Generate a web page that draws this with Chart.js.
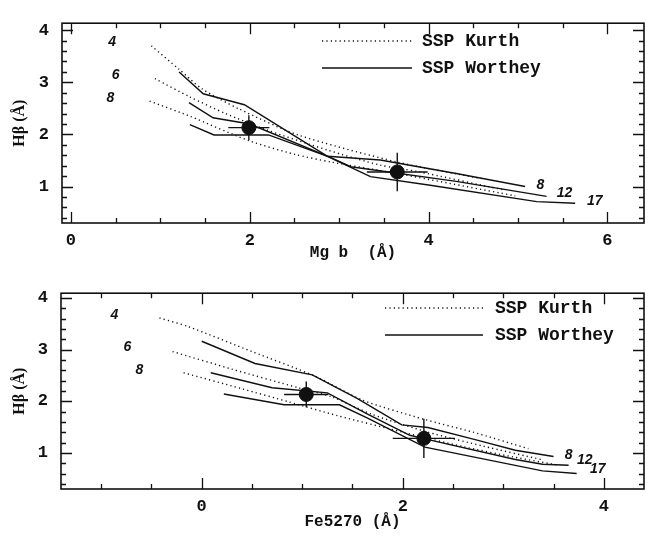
<!DOCTYPE html>
<html>
<head>
<meta charset="utf-8">
<script src="https://cdn.jsdelivr.net/npm/chart.js@4.4.1/dist/chart.umd.min.js"></script>
<style>
    html, body { margin: 0; padding: 0; background: #fff; }
    .panel { position: relative; width: 652px; }
</style>
</head>
<body>
<div class="panel" style="height:270px"><canvas id="chartMg"></canvas></div>
<div class="panel" style="height:269px"><canvas id="chartFe"></canvas></div>
<script>
// ---- top panel: Hbeta vs Mg b ----
const mgKurth4 = [[0.90, 3.70], [1.21, 3.25], [1.47, 2.87], [1.88, 2.49], [2.54, 1.99], [3.65, 1.47], [4.60, 1.15]];
const mgKurth6 = [[0.94, 3.07], [1.33, 2.72], [1.73, 2.40], [2.20, 2.08], [2.87, 1.70], [3.46, 1.41], [3.87, 1.29], [4.83, 0.94]];
const mgKurth8 = [[0.88, 2.64], [1.33, 2.35], [1.99, 1.88], [2.50, 1.62], [2.91, 1.47], [3.65, 1.25], [4.97, 0.82]];
const mgWorthey8 = [[1.33, 2.19], [1.60, 1.99], [2.21, 1.99], [2.87, 1.58], [3.46, 1.51], [4.31, 1.25], [5.08, 1.00]];
const mgWorthey12 = [[1.32, 2.61], [1.59, 2.32], [2.00, 2.20], [2.90, 1.56], [3.13, 1.38], [4.31, 1.10], [5.32, 0.81]];
const mgWorthey17 = [[1.21, 3.20], [1.48, 2.78], [1.94, 2.57], [2.87, 1.58], [3.35, 1.19], [4.00, 1.03], [5.21, 0.71], [5.64, 0.68]];
const mgObsX = [1.99, 3.65];
const mgObsY = [2.13, 1.28];
const mgErrX = [0.23, 0.34];
const mgErrY = [0.24, 0.37];

// ---- bottom panel: Hbeta vs Fe5270 ----
const feKurth4 = [[-0.42, 3.61], [-0.13, 3.44], [0.50, 2.96], [1.12, 2.49], [1.60, 2.02], [2.21, 1.65], [2.70, 1.40], [3.25, 1.08]];
const feKurth6 = [[-0.29, 2.96], [0.30, 2.62], [0.96, 2.26], [1.30, 2.08], [1.70, 1.74], [2.25, 1.40], [2.80, 1.13], [3.40, 0.86]];
const feKurth8 = [[-0.18, 2.55], [0.40, 2.24], [0.86, 1.99], [1.35, 1.72], [2.00, 1.40], [2.60, 1.12], [3.10, 0.92], [3.55, 0.76]];
const feWorthey8 = [[0.00, 3.16], [0.53, 2.73], [1.10, 2.51], [1.55, 2.05], [1.99, 1.54], [2.25, 1.49], [2.73, 1.25], [3.12, 1.05], [3.50, 0.93]];
const feWorthey12 = [[0.09, 2.55], [0.70, 2.26], [1.25, 2.16], [1.65, 1.75], [2.07, 1.34], [2.22, 1.27], [3.12, 0.87], [3.39, 0.78], [3.65, 0.76]];
const feWorthey17 = [[0.22, 2.14], [0.82, 1.93], [1.37, 1.93], [1.65, 1.67], [2.22, 1.11], [3.39, 0.65], [3.73, 0.60]];
const feObsX = [1.04, 2.21];
const feObsY = [2.13, 1.28];
const feErrX = [0.22, 0.31];
const feErrY = [0.25, 0.38];

const legendNames = ['SSP Kurth', 'SSP Worthey'];
const ageLabelsKurth = ['4', '6', '8'];
const ageLabelsWorthey = ['8', '12', '17'];

const INK = '#111';
const MONO = '"Liberation Mono", "DejaVu Sans Mono", monospace';

function isMult(v, step) {
    const r = v / step;
    return Math.abs(r - Math.round(r)) < 1e-6;
}

// frame with inward ticks on all four sides
const frameTicks = {
    id: 'frameTicks',
    afterDatasetsDraw(chart) {
        const { ctx, chartArea: a, scales: { x, y } } = chart;
        ctx.save();
        ctx.strokeStyle = INK;
        ctx.lineWidth = 1.6;
        ctx.strokeRect(a.left, a.top, a.right - a.left, a.bottom - a.top);
        ctx.lineWidth = 1.3;
        ctx.beginPath();
        x.ticks.forEach(t => {
            const px = Math.round(x.getPixelForValue(t.value)) + 0.5;
            const len = isMult(t.value, 2) ? 11 : 5;
            ctx.moveTo(px, a.bottom); ctx.lineTo(px, a.bottom - len);
            ctx.moveTo(px, a.top); ctx.lineTo(px, a.top + len);
        });
        y.ticks.forEach(t => {
            const py = Math.round(y.getPixelForValue(t.value)) + 0.5;
            const len = isMult(t.value, 1) ? 11 : 5;
            ctx.moveTo(a.left, py); ctx.lineTo(a.left + len, py);
            ctx.moveTo(a.right, py); ctx.lineTo(a.right - len, py);
        });
        ctx.stroke();
        ctx.restore();
    }
};

// in-plot legend and age labels
const annotations = {
    id: 'annotations',
    afterDatasetsDraw(chart, args, opts) {
        const { ctx, scales: { x, y } } = chart;
        ctx.save();
        ctx.strokeStyle = INK;
        ctx.fillStyle = INK;
        ctx.lineWidth = 1.3;
        opts.legend.forEach((item, i) => {
            ctx.setLineDash(i === 0 ? [1.2, 3.2] : []);
            ctx.beginPath();
            ctx.moveTo(opts.legendX0, item.y);
            ctx.lineTo(opts.legendX1, item.y);
            ctx.stroke();
            ctx.setLineDash([]);
            ctx.font = 'bold 18px ' + MONO;
            ctx.textAlign = 'left';
            ctx.textBaseline = 'middle';
            ctx.fillText(legendNames[i], opts.textX, item.y);
        });
        ctx.font = 'italic bold 14px "Liberation Sans", Arial, sans-serif';
        ctx.textAlign = 'center';
        ctx.textBaseline = 'middle';
        opts.ages.forEach(l => {
            ctx.fillText(l.text, x.getPixelForValue(l.x), y.getPixelForValue(l.y));
        });
        ctx.restore();
    }
};

function lineSet(pts, dotted) {
    return {
        data: pts.map(p => ({ x: p[0], y: p[1] })),
        showLine: true,
        borderColor: INK,
        borderWidth: 1.4,
        borderDash: dotted ? [1.2, 3.2] : [],
        pointRadius: 0,
        tension: dotted ? 0.25 : 0
    };
}

function errorSets(xs, ys, ex, ey) {
    const sets = [];
    xs.forEach((xv, i) => {
        sets.push(lineSet([[xv - ex[i], ys[i]], [xv + ex[i], ys[i]]], false));
        sets.push(lineSet([[xv, ys[i] - ey[i]], [xv, ys[i] + ey[i]]], false));
    });
    return sets;
}

function buildChart(id, cfg) {
    const datasets = [
        ...cfg.kurth.map(k => lineSet(k, true)),
        ...cfg.worthey.map(w => lineSet(w, false)),
        ...errorSets(cfg.obsX, cfg.obsY, cfg.errX, cfg.errY),
        {
            data: cfg.obsX.map((v, i) => ({ x: v, y: cfg.obsY[i] })),
            pointRadius: 7,
            pointBackgroundColor: INK,
            pointBorderColor: INK,
            showLine: false
        }
    ];
    return new Chart(document.getElementById(id), {
        type: 'scatter',
        data: { datasets: datasets },
        plugins: [frameTicks, annotations],
        options: {
            responsive: true,
            maintainAspectRatio: false,
            animation: false,
            devicePixelRatio: 1,
            layout: { padding: { top: 5, right: 2, left: 0, bottom: 0 } },
            plugins: {
                legend: { display: false },
                tooltip: { enabled: false },
                annotations: cfg.annot
            },
            scales: {
                x: {
                    min: cfg.xMin, max: cfg.xMax,
                    afterFit: s => { s.height = cfg.xAxisHeight; },
                    grid: { display: false, drawTicks: false },
                    border: { display: false },
                    ticks: {
                        stepSize: 0.5, includeBounds: false, autoSkip: false, maxRotation: 0,
                        padding: cfg.xTickPad, color: INK,
                        font: { family: MONO, size: 17, weight: 'bold' },
                        callback: v => isMult(v, 2) ? String(Math.round(v)) : ''
                    },
                    title: {
                        display: true, text: cfg.xTitle, color: INK,
                        font: { family: MONO, size: 16, weight: 'bold' },
                        padding: { top: 0, bottom: cfg.xTitlePad }
                    }
                },
                y: {
                    min: cfg.yMin, max: cfg.yMax,
                    afterFit: s => { s.width = cfg.yAxisWidth; },
                    grid: { display: false, drawTicks: false },
                    border: { display: false },
                    ticks: {
                        stepSize: 0.2, includeBounds: false, autoSkip: false,
                        padding: 13, color: INK,
                        font: { family: MONO, size: 17, weight: 'bold' },
                        callback: v => isMult(v, 1) ? String(Math.round(v)) : ''
                    },
                    title: {
                        display: true, text: 'H\u03B2 (\u00C5)', color: INK,
                        font: { family: '"Liberation Serif", serif', size: 16, weight: 'bold' },
                        padding: { top: 10, bottom: 0 }
                    }
                }
            }
        }
    });
}

buildChart('chartMg', {
    kurth: [mgKurth4, mgKurth6, mgKurth8],
    worthey: [mgWorthey8, mgWorthey12, mgWorthey17],
    obsX: mgObsX, obsY: mgObsY, errX: mgErrX, errY: mgErrY,
    xMin: -0.1, xMax: 6.41, yMin: 0.3, yMax: 4.135,
    xAxisHeight: 47, yAxisWidth: 62, xTitlePad: 7, xTickPad: 8,
    xTitle: 'Mg b  (\u00C5)',
    annot: {
        legendX0: 322, legendX1: 412, textX: 422,
        legend: [{ y: 41 }, { y: 68 }],
        ages: [
            { text: ageLabelsKurth[0], x: 0.46, y: 3.78 },
            { text: ageLabelsKurth[1], x: 0.50, y: 3.13 },
            { text: ageLabelsKurth[2], x: 0.44, y: 2.69 },
            { text: ageLabelsWorthey[0], x: 5.25, y: 1.03 },
            { text: ageLabelsWorthey[1], x: 5.52, y: 0.88 },
            { text: ageLabelsWorthey[2], x: 5.86, y: 0.72 }
        ]
    }
});

buildChart('chartFe', {
    kurth: [feKurth4, feKurth6, feKurth8],
    worthey: [feWorthey8, feWorthey12, feWorthey17],
    obsX: feObsX, obsY: feObsY, errX: feErrX, errY: feErrY,
    xMin: -1.40, xMax: 4.40, yMin: 0.3, yMax: 4.09,
    xAxisHeight: 50, yAxisWidth: 61, xTitlePad: 7, xTickPad: 8,
    xTitle: 'Fe5270 (\u00C5)',
    annot: {
        legendX0: 385, legendX1: 483, textX: 495,
        legend: [{ y: 38 }, { y: 65 }],
        ages: [
            { text: ageLabelsKurth[0], x: -0.87, y: 3.67 },
            { text: ageLabelsKurth[1], x: -0.74, y: 3.04 },
            { text: ageLabelsKurth[2], x: -0.62, y: 2.61 },
            { text: ageLabelsWorthey[0], x: 3.65, y: 0.96 },
            { text: ageLabelsWorthey[1], x: 3.81, y: 0.85 },
            { text: ageLabelsWorthey[2], x: 3.94, y: 0.69 }
        ]
    }
});
</script>
</body>
</html>
